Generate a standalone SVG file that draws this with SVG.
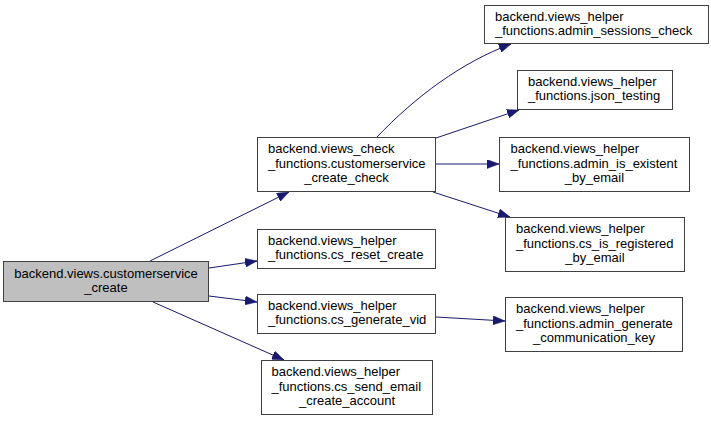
<svg xmlns="http://www.w3.org/2000/svg" width="711" height="421" viewBox="0 0 711 421">
<style>
.n rect{fill:#ffffff;stroke:#404040;stroke-width:1}
.root rect{fill:#bfbfbf}
text{font-family:"Liberation Sans",Arial,sans-serif;font-size:13px;fill:#000}
.c{text-anchor:middle}
.e path{fill:none;stroke:#191970;stroke-width:1}
</style>
<defs>
<marker id="a" markerUnits="userSpaceOnUse" markerWidth="13" markerHeight="9" refX="12" refY="4.5" orient="auto">
<path d="M0,0 L12,4.5 L0,9 z" fill="#191970" stroke="#191970" stroke-width="0.5"/>
</marker>
</defs>
<rect width="711" height="421" fill="#ffffff"/>
<g id="edges" class="e">
<path d="M150,261 L289,192" marker-end="url(#a)"/>
<path d="M209,268 L257,261" marker-end="url(#a)"/>
<path d="M209,296 L257,302" marker-end="url(#a)"/>
<path d="M153,302 L284,360" marker-end="url(#a)"/>
<path d="M377,137 C415,97 462,62 511,44" marker-end="url(#a)"/>
<path d="M436,138 L519,110" marker-end="url(#a)"/>
<path d="M436,164 L499,164" marker-end="url(#a)"/>
<path d="M433,192 L510,217" marker-end="url(#a)"/>
<path d="M436,317 L505,321" marker-end="url(#a)"/>
</g>
<g id="root" class="n root">
<rect x="3.5" y="261.5" width="205" height="40"/>
<text class="c" x="106" y="277.5">backend.views.customerservice</text>
<text class="c" x="106" y="291.5">_create</text>
</g>
<g id="check" class="n">
<rect x="257.5" y="137.5" width="178" height="54"/>
<text x="268" y="153">backend.views_check</text>
<text x="268" y="167.5">_functions.customerservice</text>
<text class="c" x="346.5" y="182">_create_check</text>
</g>
<g id="reset" class="n">
<rect x="257.5" y="229.5" width="178" height="39"/>
<text x="268" y="245">backend.views_helper</text>
<text x="268" y="259">_functions.cs_reset_create</text>
</g>
<g id="generate" class="n">
<rect x="257.5" y="294.5" width="178" height="39"/>
<text x="268" y="310">backend.views_helper</text>
<text x="268" y="324">_functions.cs_generate_vid</text>
</g>
<g id="send" class="n">
<rect x="261.5" y="360.5" width="171" height="54"/>
<text x="271.5" y="376">backend.views_helper</text>
<text x="271.5" y="390.5">_functions.cs_send_email</text>
<text class="c" x="347" y="405">_create_account</text>
</g>
<g id="sessions" class="n">
<rect x="484.5" y="5.5" width="224" height="38"/>
<text x="495" y="21">backend.views_helper</text>
<text x="495" y="35">_functions.admin_sessions_check</text>
</g>
<g id="json" class="n">
<rect x="517.5" y="70.5" width="155" height="39"/>
<text x="528" y="86">backend.views_helper</text>
<text x="528" y="100">_functions.json_testing</text>
</g>
<g id="existent" class="n">
<rect x="499.5" y="137.5" width="190" height="54"/>
<text x="510.5" y="153">backend.views_helper</text>
<text x="510.5" y="167.5">_functions.admin_is_existent</text>
<text class="c" x="594.5" y="182">_by_email</text>
</g>
<g id="registered" class="n">
<rect x="505.5" y="217.5" width="179" height="54"/>
<text x="516" y="233">backend.views_helper</text>
<text x="516" y="247.5">_functions.cs_is_registered</text>
<text class="c" x="595" y="262">_by_email</text>
</g>
<g id="admingen" class="n">
<rect x="505.5" y="297.5" width="177" height="54"/>
<text x="516" y="313">backend.views_helper</text>
<text x="516" y="327.5">_functions.admin_generate</text>
<text class="c" x="594" y="342">_communication_key</text>
</g>
</svg>
